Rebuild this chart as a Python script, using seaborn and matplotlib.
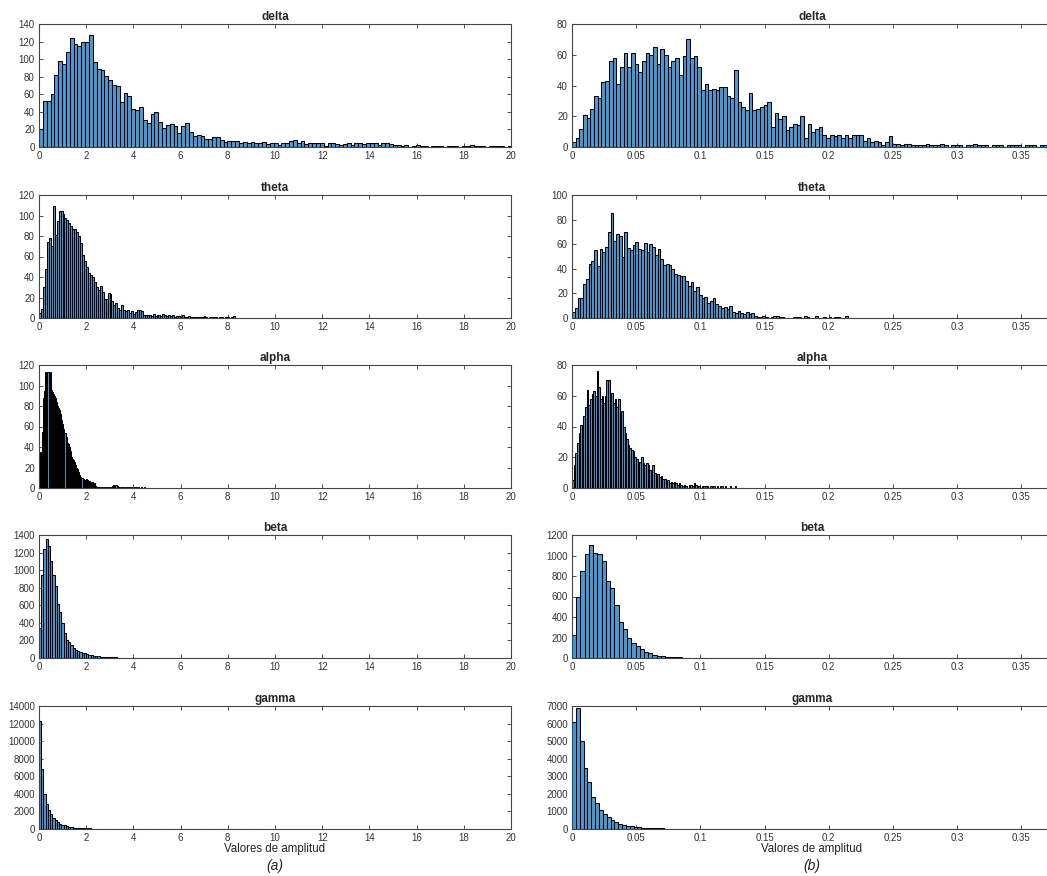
import numpy as np
import pandas as pd
import matplotlib
matplotlib.use("Agg")
import matplotlib.pyplot as plt
import seaborn as sns

# ---------------- data (bin counts) ----------------
bands = ["delta", "theta", "alpha", "beta", "gamma"]

# left column: amplitude 0..20
delta_L_width = 0.163
delta_L = [20, 52, 52, 60, 82, 98, 94, 108, 124, 117,
           115, 120, 119, 128, 97, 89, 88, 81, 76, 71,
           69, 51, 62, 58, 43, 42, 46, 31, 27, 37,
           40, 28, 22, 25, 26, 24, 16, 24, 27, 17,
           13, 14, 12, 9, 9, 11, 11, 8, 6, 7,
           7, 7, 5, 6, 4, 6, 5, 5, 6, 3,
           5, 4, 2, 5, 4, 7, 8, 5, 7, 3,
           5, 5, 4, 4, 1, 5, 5, 3, 2, 3,
           4, 2, 5, 5, 3, 5, 4, 4, 2, 4,
           5, 3, 2, 2, 1, 2, 0, 1, 2, 1,
           1, 0, 1, 1, 1, 0, 1, 1, 1, 0,
           1, 1, 2, 1, 1, 1, 0, 1, 1, 1,
           1, 0, 1, 1]

theta_L_width = 0.083
theta_L = [5, 9, 30, 48, 74, 78, 70, 109, 81, 95,
           104, 104, 101, 98, 96, 93, 90, 87, 87, 84,
           80, 73, 61, 56, 50, 44, 42, 40, 35, 30,
           27, 31, 25, 19, 19, 24, 23, 17, 13, 15,
           10, 8, 13, 8, 7, 8, 5, 7, 4, 6,
           8, 8, 7, 3, 3, 3, 3, 2, 4, 2,
           3, 3, 2, 4, 3, 2, 3, 2, 3, 1,
           2, 2, 1, 3, 1, 1, 2, 1, 1, 1,
           1, 1, 1, 1, 2, 1, 0, 1, 1, 1,
           1, 0, 1, 1, 0, 1, 1, 0, 1, 2]

alpha_L_width = 0.045
alpha_L = [4, 35, 34, 55, 88, 95, 113, 104, 113, 101,
           113, 96, 94, 92, 90, 88, 84, 80, 78, 76,
           72, 66, 62, 58, 54, 50, 44, 43, 40, 36,
           30, 28, 27, 25, 22, 20, 19, 16, 13, 11,
           10, 9, 8, 6, 9, 8, 5, 7, 6, 4,
           6, 3, 5, 2, 1, 1, 1, 0, 1, 1,
           0, 1, 1, 0, 1, 1, 1, 0, 1, 2,
           3, 2, 3, 2, 1, 1, 0, 1, 1, 0,
           1, 0, 1, 1, 0, 1, 0, 1, 0, 1,
           0, 1, 0, 1, 0, 0, 1, 0, 0, 1]

beta_L_width = 0.095
beta_L = [340, 940, 1240, 1350, 1270, 1100, 950, 820, 620, 520,
          400, 290, 200, 180, 150, 110, 90, 80, 70, 60,
          55, 45, 35, 30, 25, 20, 18, 15, 12, 10,
          10, 8, 7, 6, 6, 5, 5, 4, 4, 3,
          3, 3, 2, 3, 2, 2, 2, 1, 2, 1,
          2, 1, 1, 2, 1, 1, 1, 2, 1, 1,
          1, 1, 2, 1, 0, 1, 1, 1, 0, 1,
          1, 0, 1, 1, 0, 1, 0, 1, 1, 0,
          1, 0, 1, 0, 1, 1, 0, 1, 0, 1,
          0, 1, 0, 1, 0, 1, 0, 0, 1, 1]

gamma_L_width = 0.095
gamma_L = [12300, 6800, 4000, 2800, 2200, 1700, 1250, 1000, 750, 600,
           480, 400, 320, 260, 210, 170, 140, 120, 100, 90,
           80, 70, 60, 55, 50, 45, 40, 35, 30, 28,
           25, 22, 20, 18, 16, 15, 14, 13, 12, 11,
           10, 10, 9, 9, 8, 8, 7, 7, 6, 6,
           6, 5, 5, 5, 4, 4, 4, 4, 3, 3,
           3, 3, 3, 3, 2, 2, 2, 2, 2, 2,
           2, 2, 2, 1, 1, 1, 1, 1, 1, 1,
           1, 1, 1, 1, 1, 1, 1, 1, 1, 1,
           1, 1, 1, 1, 1, 1, 1, 1, 1, 1]

# right column: amplitude 0..0.37
delta_R_width = 0.00287
delta_R = [3, 6, 12, 21, 19, 25, 33, 32, 42, 43,
           56, 58, 41, 52, 61, 52, 61, 54, 49, 56,
           61, 60, 65, 54, 64, 60, 52, 56, 58, 47,
           59, 70, 58, 59, 52, 37, 41, 37, 38, 37,
           39, 39, 33, 32, 50, 29, 26, 24, 35, 24,
           25, 26, 27, 29, 13, 22, 18, 20, 11, 13,
           15, 14, 20, 6, 15, 10, 12, 13, 8, 6,
           8, 7, 8, 6, 8, 6, 8, 8, 8, 4,
           6, 3, 4, 3, 1, 3, 7, 2, 2, 1,
           2, 2, 1, 1, 1, 1, 2, 1, 1, 1,
           2, 1, 0, 1, 1, 1, 0, 1, 1, 2,
           1, 1, 1, 0, 1, 1, 1, 0, 1, 1,
           1, 1, 0, 1, 1, 1, 0, 1, 1, 1]

theta_R_width = 0.00215
theta_R = [5, 8, 16, 16, 28, 32, 44, 46, 55, 42, 56, 54, 58, 70, 85,
           63, 68, 67, 50, 70, 57, 55, 59, 62,
           56, 55, 61, 54, 60, 58, 51, 56, 48, 43,
           44, 43, 40, 36, 35, 34, 34, 30,
           26, 29, 22, 25, 19, 16,
           17, 12, 14, 16, 11, 10, 8, 9, 7, 10, 5,
           4, 6, 4, 3, 5, 3, 4, 2, 1, 1, 2, 1,
           0, 1, 2, 2, 1, 1, 0, 0, 0, 1, 1, 1, 0, 2, 1, 0, 0, 2, 0, 0,
           1, 0, 1, 0, 1, 1, 0, 0, 2]

alpha_R_width = 0.00128
alpha_R = [5, 15, 23, 29, 36, 41, 41, 47, 53, 64,
           54, 58, 61, 63, 60, 76, 66, 58, 60, 55,
           60, 70, 70, 58, 62, 55, 58, 53, 58, 42,
           50, 40, 36, 32, 28, 26, 25, 24, 20, 19,
           17, 17, 20, 16, 15, 16, 15, 12, 10, 15,
           10, 8, 9, 7, 8, 6, 6, 4, 5, 3,
           4, 3, 4, 3, 2, 3, 2, 1, 2, 1,
           0, 2, 2, 1, 3, 2, 1, 1, 0, 1,
           1, 1, 1, 0, 1, 1, 1, 0, 1, 0,
           1, 1, 0, 1, 0, 0, 1, 0, 0, 1]

beta_R_width = 0.0033
beta_R = [220, 600, 850, 1010, 1100, 1020, 1010, 950, 750, 680,
          520, 350, 280, 200, 150, 120, 85, 60, 45, 30,
          20, 15, 10, 8, 6, 5, 4, 3, 3, 2,
          2, 2, 1, 2, 1, 1, 2, 1, 1, 1,
          2, 1, 1, 1, 1, 2, 1, 1, 1, 1,
          1, 1, 2, 1, 1, 1, 1, 1, 1, 2,
          1, 1, 1, 1, 1, 1, 1, 2, 1, 1,
          1, 1, 1, 1, 1, 1, 2, 1, 1, 1,
          1, 1, 1, 1, 1, 2, 1, 1, 1, 1,
          1, 1, 1, 1, 2, 1, 1, 1, 1, 1,
          1, 1, 1, 1, 1, 2, 1, 1, 1, 1,
          1, 1, 1]

gamma_R_width = 0.003
gamma_R = [6100, 6900, 5000, 3500, 2650, 1800, 1500, 1100, 850, 700,
           500, 400, 300, 250, 180, 150, 110, 90, 80, 60,
           50, 40, 35, 30, 25, 20, 18, 15, 12, 10,
           10, 9, 8, 7, 6, 6, 5, 5, 4, 4,
           3, 3, 3, 3, 2, 2, 2, 2, 2, 2,
           2, 2, 2, 2, 1, 1, 1, 1, 1, 1,
           1, 1, 1, 1, 1, 1, 1, 1, 1, 1,
           1, 1, 1, 1, 1, 1, 1, 1, 1, 1,
           1, 1, 1, 1, 1, 1, 1, 1, 1, 1,
           1, 1, 1, 1, 1, 1, 1, 1, 1, 1,
           1, 1, 1, 1, 1, 1, 1, 1, 1, 1,
           1, 1, 1, 1, 1, 1, 1, 1, 1, 1,
           1, 1, 1, 1, 1]

left_counts = [delta_L, theta_L, alpha_L, beta_L, gamma_L]
left_widths = [delta_L_width, theta_L_width, alpha_L_width, beta_L_width, gamma_L_width]
right_counts = [delta_R, theta_R, alpha_R, beta_R, gamma_R]
right_widths = [delta_R_width, theta_R_width, alpha_R_width, beta_R_width, gamma_R_width]

left_ymax = [140, 120, 120, 1400, 14000]
left_ystep = [20, 20, 20, 200, 2000]
right_ymax = [80, 100, 80, 1200, 7000]
right_ystep = [20, 20, 20, 200, 1000]

left_xticks = list(range(0, 21, 2))
right_xticks = [0, 0.05, 0.1, 0.15, 0.2, 0.25, 0.3, 0.35]
xlabel_text = "Valores de amplitud"
panel_tags = ["(a)", "(b)"]

# ---------------- figure ----------------
sns.set_style("ticks")
plt.rcParams["font.family"] = ["Liberation Sans", "DejaVu Sans"]

W, H = 1047, 876
fig = plt.figure(figsize=(W / 100, H / 100), dpi=100)
fig.patch.set_facecolor("white")

BAR = "#4b9ad3"
row_tops = [24, 195, 365, 535, 706]
ax_h = 123


def draw(ax, counts, width, xmax, ymax, ystep, xticks, title):
    counts = np.asarray(counts, dtype=float)
    n = len(counts)
    edges = np.arange(n + 1) * width
    df = pd.DataFrame({"amp": (edges[:-1] + edges[1:]) / 2, "n": counts})
    sns.histplot(data=df, x="amp", weights="n", bins=edges.tolist(), ax=ax,
                 color=BAR, edgecolor="black", linewidth=0.75, alpha=1.0)
    ax.set_xlim(0, xmax)
    ax.set_ylim(0, ymax)
    ax.set_yticks(np.arange(0, ymax + ystep / 2, ystep))
    ax.set_xticks(xticks)
    ax.set_xticklabels([f"{v:g}" for v in xticks])
    ax.tick_params(direction="in", length=3, width=0.6, top=True, right=True,
                   labelsize=7, colors="#333333", pad=3)
    for s in ax.spines.values():
        s.set_visible(True)
        s.set_color("#444444")
        s.set_linewidth(0.8)
    ax.set_ylabel("")
    ax.set_xlabel("")
    ax.set_title(title, fontsize=8.5, fontweight="bold", pad=3)
    ax.set_facecolor("white")


for i, band in enumerate(bands):
    top = row_tops[i]
    b = 1 - (top + ax_h) / H
    axl = fig.add_axes([39 / W, b, 472 / W, ax_h / H])
    draw(axl, left_counts[i], left_widths[i], 20, left_ymax[i], left_ystep[i],
         left_xticks, band)
    axr = fig.add_axes([572 / W, b, 480 / W, ax_h / H])
    draw(axr, right_counts[i], right_widths[i], 0.374, right_ymax[i], right_ystep[i],
         right_xticks, band)
    if i == len(bands) - 1:
        for ax in (axl, axr):
            ax.set_xlabel(xlabel_text, fontsize=8.3, labelpad=0, color="#222222")

fig.text(275 / W, 1 - 866 / H, panel_tags[0], fontsize=10, style="italic",
         ha="center", va="center", color="#222222")
fig.text(812 / W, 1 - 866 / H, panel_tags[1], fontsize=10, style="italic",
         ha="center", va="center", color="#222222")

fig.savefig("out.png", dpi=100, facecolor="white")
